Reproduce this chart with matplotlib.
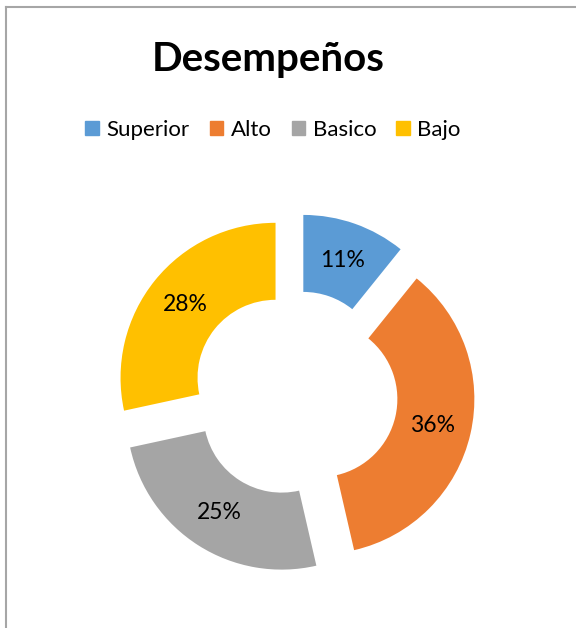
"""donut chart of desempenos"""
import matplotlib
matplotlib.use('Agg')
import matplotlib.pyplot as plt
from matplotlib.patches import Patch
from matplotlib.lines import Line2D

categories = ['Superior', 'Alto', 'Basico', 'Bajo']
values = [10.8, 35.6, 25.2, 28.4]  # percentages, shown rounded
colors = ['#5B9BD5', '#ED7D31', '#A5A5A5', '#FFC000']

plt.rcParams['font.family'] = ['Lato', 'DejaVu Sans']

W, H = 576, 628
fig = plt.figure(figsize=(W / 100, H / 100), dpi=100)
ax = fig.add_axes([0, 0, 1, 1])

# geometry in pixels (explode is in data units for matplotlib pie)
cx, cy = 295, H - 393.5
R, ring = 155, 77
gap = 25

ax.pie(values, colors=colors, radius=R, center=(cx, cy),
       explode=[gap] * len(values), startangle=90, counterclock=False,
       wedgeprops=dict(width=ring, linewidth=0),
       autopct='%1.0f%%', pctdistance=(R - ring / 2) / R,
       textprops=dict(fontsize=16.5, color='black'))
ax.set_xlim(0, W)
ax.set_ylim(0, H)
ax.set_aspect('equal')
ax.axis('off')

# title and legend
fig.text(268 / W, 1 - 59 / H, 'Desempeños', ha='center', va='center',
         fontsize=29, fontweight='bold')
handles = [Patch(color=c, label=l) for c, l in zip(colors, categories)]
fig.legend(handles=handles, loc='center', bbox_to_anchor=(273 / W, 1 - 130 / H),
           ncol=4, frameon=False, fontsize=16, handlelength=0.6, handleheight=0.6,
           handletextpad=0.35, columnspacing=0.9)

# chart border (left and top visible)
fig.add_artist(Line2D([6 / W, 6 / W], [0, 1 - 7 / H], color='#a6a6a6', lw=1.5))
fig.add_artist(Line2D([6 / W, 1], [1 - 7 / H, 1 - 7 / H], color='#a6a6a6', lw=1.5))

fig.savefig('out.png', dpi=100)
